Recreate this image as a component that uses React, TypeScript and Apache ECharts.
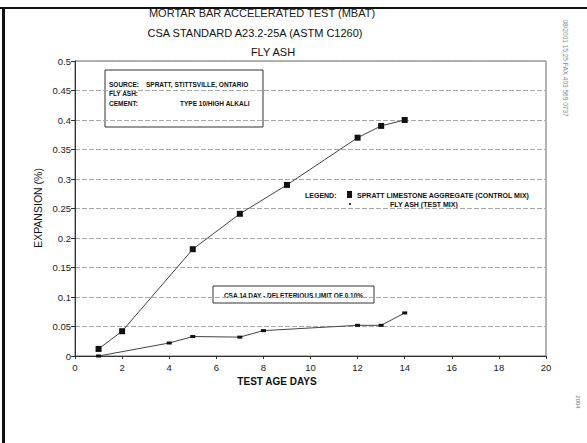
import React, { useEffect, useRef } from "react";
import * as echarts from "echarts";

const controlDays = [1, 2, 5, 7, 9, 12, 13, 14];
const controlValues = [0.012, 0.042, 0.181, 0.241, 0.29, 0.37, 0.39, 0.4];
const testDays = [1, 4, 5, 7, 8, 12, 13, 14];
const testValues = [0.0, 0.022, 0.033, 0.032, 0.043, 0.052, 0.052, 0.073];

const titleLines = [
  "MORTAR BAR ACCELERATED TEST (MBAT)",
  "CSA STANDARD A23.2-25A (ASTM C1260)",
  "FLY ASH",
];
const seriesNames = ["SPRATT LIMESTONE AGGREGATE (CONTROL MIX)", "FLY ASH (TEST MIX)"];
const xTitle = "TEST AGE DAYS";
const yTitle = "EXPANSION (%)";
const limitNote = "CSA 14 DAY - DELETERIOUS LIMIT OF 0.10%";
const faxText = "08/2001 15:25 FAX 403 569 0737";

const FONT = "Liberation Sans, Arial, sans-serif";

export default function App() {
  const ref = useRef<HTMLDivElement>(null);
  useEffect(() => {
    if (!ref.current) return;
    const chart = echarts.init(ref.current, null, { renderer: "svg" });
    const txt = (x: number, y: number, text: string, size: number, extra: any = {}) => ({
      type: "text",
      x,
      y,
      silent: true,
      style: {
        text,
        fontSize: size,
        fontFamily: FONT,
        fill: "#111",
        textVerticalAlign: "middle",
        ...extra,
      },
    });
    chart.setOption({
      animation: false,
      backgroundColor: "#fff",
      grid: {
        left: 75,
        right: 41,
        top: 61,
        bottom: 87,
        show: true,
        borderColor: "#666",
        borderWidth: 1,
      },
      xAxis: {
        type: "value",
        min: 0,
        max: 20,
        interval: 2,
        axisLine: { lineStyle: { color: "#333", width: 1 } },
        axisTick: { show: true, length: 3, lineStyle: { color: "#333" } },
        axisLabel: { color: "#222", fontSize: 9.5, fontFamily: FONT, margin: 6 },
        splitLine: { show: false },
      },
      yAxis: {
        type: "value",
        min: 0,
        max: 0.5,
        interval: 0.05,
        axisLine: { show: true, lineStyle: { color: "#333", width: 1 } },
        axisTick: { show: true, length: 4, lineStyle: { color: "#333" } },
        axisLabel: { color: "#222", fontSize: 9.5, fontFamily: FONT, margin: 4 },
        splitLine: { show: true, lineStyle: { color: "#aaa", width: 1, type: [5, 2] } },
      },
      series: [
        {
          name: seriesNames[0],
          type: "line",
          data: controlDays.map((d, i) => [d, controlValues[i]]),
          symbol: "rect",
          symbolSize: [6, 6],
          showSymbol: true,
          lineStyle: { color: "#444", width: 1 },
          itemStyle: { color: "#111" },
        },
        {
          name: seriesNames[1],
          type: "line",
          data: testDays.map((d, i) => [d, testValues[i]]),
          symbol: "rect",
          symbolSize: [5, 3],
          showSymbol: true,
          lineStyle: { color: "#444", width: 1 },
          itemStyle: { color: "#111" },
        },
      ],
      graphic: [
        // outer scan border
        { type: "rect", shape: { x: 0, y: 7, width: 587, height: 2 }, style: { fill: "#111" }, silent: true },
        { type: "rect", shape: { x: 2, y: 7, width: 3, height: 436 }, style: { fill: "#111" }, silent: true },
        // titles
        txt(262, 13, titleLines[0], 11, { textAlign: "center", fill: "#222" }),
        txt(255, 33, titleLines[1], 11, { textAlign: "center" }),
        txt(273, 52, titleLines[2], 11, { textAlign: "center" }),
        // axis titles
        txt(277, 381, xTitle, 10, { textAlign: "center", fontWeight: "bold" }),
        {
          type: "text",
          x: 38,
          y: 208,
          rotation: Math.PI / 2,
          silent: true,
          style: {
            text: yTitle,
            fontSize: 10.5,
            fontFamily: FONT,
            fill: "#111",
            textAlign: "center",
            textVerticalAlign: "middle",
          },
        },
        // source box
        {
          type: "rect",
          shape: { x: 105, y: 70, width: 158, height: 57 },
          style: { fill: "#fff", stroke: "#333", lineWidth: 1 },
          silent: true,
        },
        txt(109, 84, "SOURCE:", 6.5, { fontWeight: "bold" }),
        txt(146, 84, "SPRATT, STITTSVILLE, ONTARIO", 6.5, { fontWeight: "bold" }),
        txt(109, 93, "FLY ASH:", 6.5, { fontWeight: "bold" }),
        txt(109, 103, "CEMENT:", 6.5, { fontWeight: "bold" }),
        txt(180, 103, "TYPE 10/HIGH ALKALI", 6.5, { fontWeight: "bold" }),
        // limit box
        {
          type: "rect",
          shape: { x: 213, y: 286, width: 161, height: 17 },
          style: { fill: "#fff", stroke: "#333", lineWidth: 1 },
          silent: true,
        },
        txt(293.5, 295, limitNote, 6.5, { textAlign: "center", fontWeight: "bold" }),
        // legend
        txt(305, 195, "LEGEND:", 7, { fontWeight: "bold" }),
        { type: "rect", shape: { x: 347, y: 191, width: 5, height: 7 }, style: { fill: "#111" }, silent: true },
        txt(357, 195, seriesNames[0], 7, { fontWeight: "bold" }),
        { type: "rect", shape: { x: 349, y: 203, width: 2, height: 2 }, style: { fill: "#333" }, silent: true },
        txt(390, 204, seriesNames[1], 7, { fontWeight: "bold" }),
        // fax header, vertical
        {
          type: "text",
          x: 565,
          y: 68,
          rotation: -Math.PI / 2,
          silent: true,
          style: {
            text: faxText,
            fontSize: 6.5,
            fontFamily: FONT,
            fill: "#888",
            textAlign: "center",
            textVerticalAlign: "middle",
          },
        },
        {
          type: "text",
          x: 578,
          y: 402,
          rotation: -Math.PI / 2,
          silent: true,
          style: {
            text: "2004",
            fontSize: 6,
            fontFamily: FONT,
            fill: "#777",
            textAlign: "center",
            textVerticalAlign: "middle",
          },
        },
      ],
    });
    return () => chart.dispose();
  }, []);
  return (
    <div
      ref={ref}
      style={{ position: "absolute", left: 0, top: 0, width: 587, height: 443 }}
    />
  );
}
